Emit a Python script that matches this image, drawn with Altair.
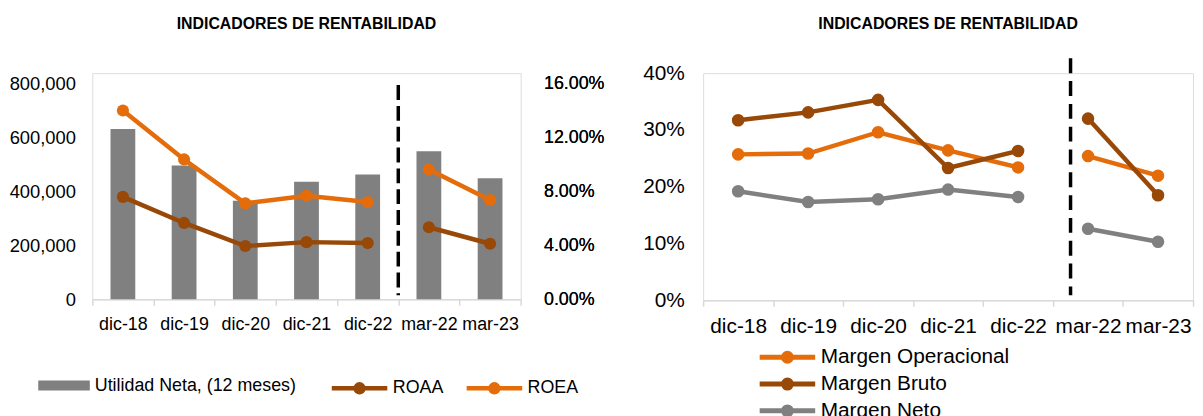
import altair as alt
import pandas as pd

cats = ["dic-18", "dic-19", "dic-20", "dic-21", "dic-22", "mar-22", "mar-23"]
seg = ["a", "a", "a", "a", "a", "b", "b"]
utilidad = [630000, 495000, 365000, 435000, 462000, 548000, 448000]
roaa = [7.58, 5.65, 3.94, 4.23, 4.16, 5.33, 4.11]
roea = [13.97, 10.35, 7.10, 7.66, 7.20, 9.60, 7.34]
m_oper = [25.7, 25.85, 29.6, 26.4, 23.4, 25.4, 21.95]
m_bruto = [31.7, 33.1, 35.3, 23.3, 26.3, 32.0, 18.5]
m_neto = [19.2, 17.3, 17.8, 19.5, 18.2, 12.6, 10.3]
left_ticks = [0, 200000, 400000, 600000, 800000]
right_ticks = [0, 0.04, 0.08, 0.12, 0.16]
pct_ticks = [0, 0.1, 0.2, 0.3, 0.4]
title_txt = "INDICADORES DE RENTABILIDAD"

BROWN = "#984807"
ORANGE = "#E46C0A"
GRAY = "#808080"
AXISGRAY = "#D9D9D9"
FONT = "Liberation Sans"

line_path = ("M-2.8,0H2.8"
             "M-0.4,0A0.4,0.4,0,1,1,0.4,0A0.4,0.4,0,1,1,-0.4,0"
             "M-0.2,0A0.2,0.2,0,1,1,0.2,0A0.2,0.2,0,1,1,-0.2,0")
rect_path = "M-2.6,-0.5H2.6V0.5H-2.6Z"

bar_df = pd.DataFrame({"cat": cats, "val": utilidad,
                       "serie": ["Utilidad Neta, (12 meses)"] * len(cats)})
left_df = pd.DataFrame({
    "cat": cats * 2,
    "val": [v / 100 for v in roaa + roea],
    "serie": ["ROAA"] * 7 + ["ROEA"] * 7,
    "seg": seg * 2,
})
right_names = ["Margen Operacional", "Margen Bruto", "Margen Neto"]
right_df = pd.DataFrame({
    "cat": cats * 3,
    "val": [v / 100 for v in m_oper + m_bruto + m_neto],
    "serie": [right_names[0]] * 7 + [right_names[1]] * 7 + [right_names[2]] * 7,
    "seg": seg * 3,
})
sep_df = pd.DataFrame({"cat": ["mar-22"]})


def xaxis(fs, pad):
    return alt.Axis(title=None, labelAngle=0, tickBand="extent", tickSize=6,
                    tickColor=AXISGRAY, domainColor=AXISGRAY, domainWidth=1.5,
                    tickWidth=1.5, labelFontSize=fs, labelPadding=pad,
                    labelColor="black", labelFont=FONT, grid=False)


def legend(**kw):
    base = dict(title=None, orient="none", symbolSize=400, labelFont=FONT,
                labelColor="black", padding=0, labelLimit=400)
    base.update(kw)
    return alt.Legend(**base)


xl = alt.X("cat:N", sort=cats, scale=alt.Scale(paddingInner=0, paddingOuter=0),
           axis=xaxis(18, 10))

bars = alt.Chart(bar_df).mark_bar(size=25).encode(
    x=xl,
    y=alt.Y("val:Q", scale=alt.Scale(domain=[0, 836700]),
            axis=alt.Axis(title=None, values=left_ticks, format=",.0f", grid=False,
                          domain=False, ticks=False, labelPadding=17, labelFontSize=18.5,
                          labelColor="black", labelFont=FONT)),
    fill=alt.Fill("serie:N", scale=alt.Scale(range=[GRAY]),
                  legend=legend(legendX=-38.5, legendY=305, symbolType=rect_path,
                                symbolStrokeWidth=0, labelOffset=21, labelFontSize=18)),
)

yl2 = alt.Y("val:Q", scale=alt.Scale(domain=[0, 0.16734]),
            axis=alt.Axis(title=None, orient="right", values=right_ticks, format=".2%",
                          grid=False, domain=False, ticks=False, labelPadding=23,
                          labelFontSize=18, labelColor="black", labelFont=FONT))
col_l = alt.Color("serie:N", scale=alt.Scale(domain=["ROAA", "ROEA"], range=[BROWN, ORANGE]),
                  legend=legend(direction="horizontal", legendX=257, legendY=305,
                                symbolType=line_path, symbolStrokeWidth=4.5,
                                labelOffset=21, columnPadding=13, labelFontSize=18))

l_lines = alt.Chart(left_df).mark_line(strokeWidth=4.5).encode(
    x=xl, y=yl2, color=col_l, detail="seg:N")
l_pts = alt.Chart(left_df).mark_circle(size=150, opacity=1).encode(
    x=xl, y=yl2, color=col_l)
l_sep = alt.Chart(sep_df).mark_rule(strokeDash=[15, 6], strokeWidth=3.5, color="black").encode(
    x=alt.X("cat:N", sort=cats, bandPosition=0), y=alt.value(12), y2=alt.value(224))

left = alt.layer(bars, l_lines, l_pts, l_sep).resolve_scale(y="independent").properties(
    width=432, height=228,
    title=alt.TitleParams(title_txt, fontSize=16, fontWeight="bold", font=FONT,
                          anchor="middle", color="black", offset=42))

xr = alt.X("cat:N", sort=cats, scale=alt.Scale(paddingInner=0, paddingOuter=0),
           axis=xaxis(21, 10))
yr = alt.Y("val:Q", scale=alt.Scale(domain=[0, 0.4]),
           axis=alt.Axis(title=None, values=pct_ticks, format=".0%", grid=False,
                         domain=False, ticks=False, labelPadding=19, labelFontSize=21,
                         labelColor="black", labelFont=FONT))
col_r = alt.Color("serie:N", scale=alt.Scale(domain=right_names, range=[ORANGE, BROWN, GRAY]),
                  legend=legend(direction="vertical", legendX=72.5, legendY=274,
                                symbolType=line_path, symbolStrokeWidth=5, labelOffset=21,
                                rowPadding=-6.5, labelFontSize=21))
r_lines = alt.Chart(right_df).mark_line(strokeWidth=4.5).encode(
    x=xr, y=yr, color=col_r, detail="seg:N")
r_pts = alt.Chart(right_df).mark_circle(size=160, opacity=1).encode(
    x=xr, y=yr, color=col_r)
r_sep = alt.Chart(sep_df).mark_rule(strokeDash=[15, 8], strokeWidth=3.5, color="black").encode(
    x=alt.X("cat:N", sort=cats, bandPosition=0.25), y=alt.value(-15), y2=alt.value(224))

right = alt.layer(r_lines, r_pts, r_sep).properties(
    width=494, height=229,
    title=alt.TitleParams(title_txt, fontSize=16, fontWeight="bold", font=FONT,
                          anchor="middle", color="black", offset=25))

chart = alt.hconcat(left, right, spacing=37).resolve_scale(
    color="independent", x="independent", y="independent"
).resolve_legend(color="independent").properties(
    padding={"left": 0, "top": 5, "right": 0, "bottom": -8}
).configure_view(stroke=None).configure(font=FONT)

chart.save("out.html", embed_options={"renderer": "svg", "actions": False})
